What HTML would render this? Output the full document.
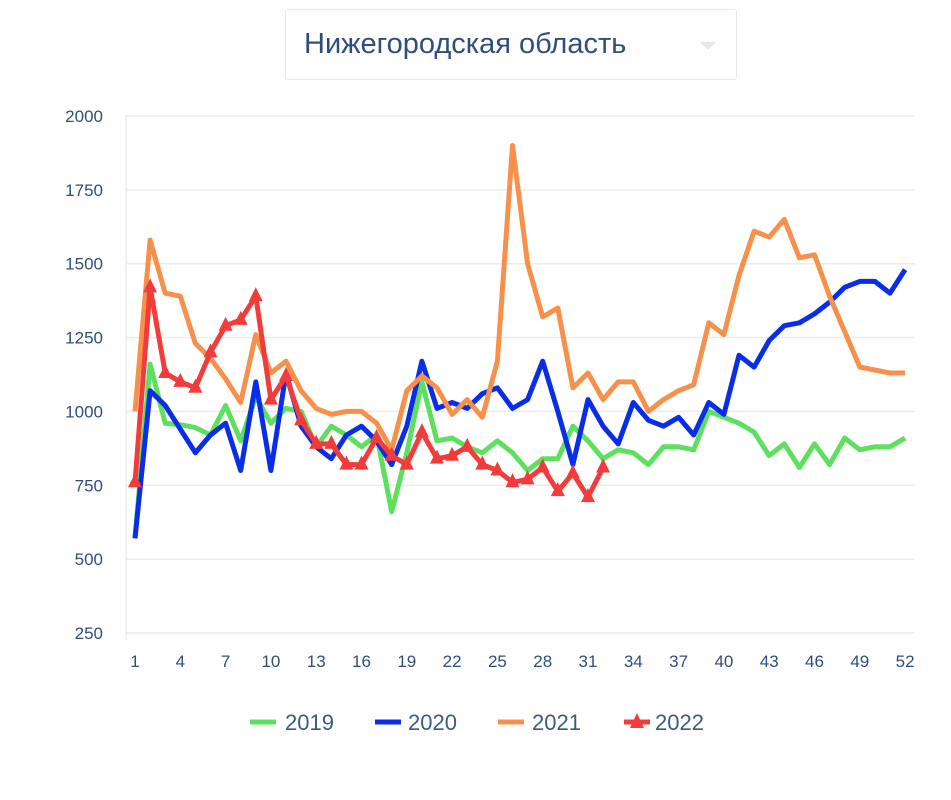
<!DOCTYPE html>
<html><head><meta charset="utf-8">
<style>
html,body{margin:0;padding:0;background:#fff;}
body{width:951px;height:800px;overflow:hidden;position:relative;font-family:"Liberation Sans",sans-serif;}
.title{position:absolute;left:285px;top:9px;width:452px;height:71px;border:1px solid #e8e8e8;border-radius:3px;box-sizing:border-box;}
.title span{position:absolute;left:18px;top:18px;font-size:29px;color:#2f4e7e;}
.title i{position:absolute;left:703px;}
</style></head><body>
<div class="title"><span>Нижегородская область</span>
<svg style="position:absolute;left:412px;top:30px" width="20" height="12"><polygon points="2,2 18,2 10,10" fill="#e3e6ea"/></svg></div>
<svg id="c" width="951" height="800" style="position:absolute;left:0;top:0"></svg>
<script>
var s=document.getElementById('c'),h='';
function Y(v){return 411.4-(v-1000)*0.2954;}
function X(i){return 135+(i-1)*15.1;}
[2000,1750,1500,1250,1000,750,500,250].forEach(function(v){
 var y=Y(v);
 h+='<line x1="126" x2="915" y1="'+y+'" y2="'+y+'" stroke="#ececec" stroke-width="1.5"/>';
 h+='<text x="103" y="'+(y+6)+'" text-anchor="end" font-size="17" fill="#2f4e7e" font-family="Liberation Sans">'+v+'</text>';
});
h+='<line x1="126" x2="126" y1="116" y2="640" stroke="#ececec" stroke-width="1.5"/>';
for(var i=1;i<=52;i+=3){h+='<text x="'+X(i)+'" y="667" text-anchor="middle" font-size="17" fill="#2f4e7e" font-family="Liberation Sans">'+i+'</text>';}
var d={
'#5ee05e':[570,1160,960,955,945,920,1020,900,1050,960,1010,1000,880,950,920,880,920,660,860,1100,900,910,880,860,900,860,800,840,840,950,900,840,870,860,820,880,880,870,1000,980,960,930,850,890,810,890,820,910,870,880,880,910],
'#0a2ee8':[570,1070,1020,940,860,920,960,800,1100,800,1130,950,880,840,920,950,900,820,950,1170,1010,1030,1010,1060,1080,1010,1040,1170,1000,820,1040,950,890,1030,970,950,980,920,1030,990,1190,1150,1240,1290,1300,1330,1370,1420,1440,1440,1400,1480],
'#f7904a':[1000,1580,1400,1390,1230,1180,1110,1030,1260,1130,1170,1070,1010,990,1000,1000,960,870,1070,1120,1080,990,1040,980,1170,1900,1500,1320,1350,1080,1130,1040,1100,1100,1000,1040,1070,1090,1300,1260,1460,1610,1590,1650,1520,1530,1390,1270,1150,1140,1130,1130],
'#f23c3c':[760,1420,1130,1100,1080,1200,1290,1310,1390,1040,1120,970,890,890,820,820,910,850,820,930,840,850,880,820,800,760,770,810,730,790,710,810]};
var k=Object.keys(d);
k.forEach(function(c){
 var p=d[c].map(function(v,i){return X(i+1).toFixed(1)+','+Y(v).toFixed(1);}).join(' ');
 h+='<polyline points="'+p+'" fill="none" stroke="'+c+'" stroke-width="5" stroke-linejoin="round"/>';
 if(c=='#f23c3c'){d[c].forEach(function(v,i){var x=X(i+1),y=Y(v);
  h+='<polygon points="'+x+','+(y-9)+' '+(x-7)+','+(y+5)+' '+(x+7)+','+(y+5)+'" fill="#f23c3c"/>';});}
});
var L=[[250,285,'#5ee05e','2019'],[375,408,'#0a2ee8','2020'],[498,532,'#f7904a','2021'],[624,655,'#f23c3c','2022']];
L.forEach(function(l){
 h+='<line x1="'+l[0]+'" x2="'+(l[0]+26)+'" y1="722" y2="722" stroke="'+l[2]+'" stroke-width="5"/>';
 if(l[3]=='2022')h+='<polygon points="637,713 630,728 644,728" fill="#f23c3c"/>';
 h+='<text x="'+l[1]+'" y="730" font-size="22" fill="#3d5a80" font-family="Liberation Sans">'+l[3]+'</text>';
});
s.innerHTML=h;
</script>
</body></html>
